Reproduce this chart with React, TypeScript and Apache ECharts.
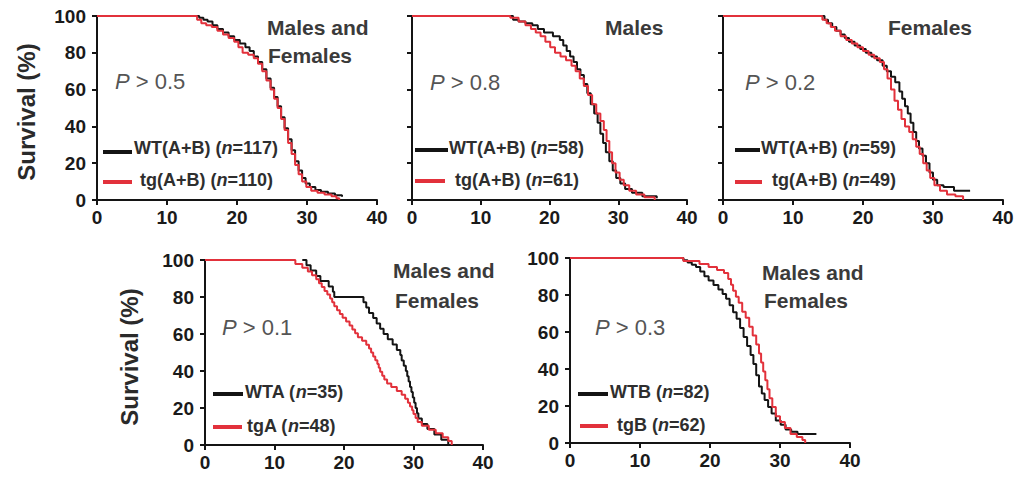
import React, { useEffect, useRef } from 'react';
import * as echarts from 'echarts';

// ---------- data ----------
const xTicks = [0, 10, 20, 30, 40];
const yTicks = [0, 20, 40, 60, 80, 100];
const panelTitles = [['Males and', 'Females'], ['Males'], ['Females'], ['Males and', 'Females'], ['Males and', 'Females']];
const pValues = ['0.5', '0.8', '0.2', '0.1', '0.3'];
const wtLabels = ['WT(A+B)', 'WT(A+B)', 'WT(A+B)', 'WTA', 'WTB'];
const tgLabels = ['tg(A+B)', 'tg(A+B)', 'tg(A+B)', 'tgA', 'tgB'];
const wtN = ['117', '58', '59', '35', '82'];
const tgN = ['110', '61', '49', '48', '62'];
const yAxisTitle = 'Survival (%)';

const wtAll = [[10.5, 100], [14.6, 99], [15.2, 98], [15.8, 97], [16.5, 95], [17.2, 93], [18, 91], [18.8, 89], [19.6, 87], [20.4, 85], [21.2, 83], [21.8, 81], [22.4, 78], [23, 75], [23.6, 71], [24.2, 66], [24.8, 61], [25.3, 56], [25.8, 51], [26.3, 45], [26.8, 39], [27.3, 33], [27.8, 27], [28.3, 21], [28.8, 16], [29.3, 12], [29.8, 9], [30.4, 7], [31.2, 5.5], [32, 4.5], [33, 3.5], [34, 2.6], [35, 1.7]];
const tgAll = [[0, 100], [14.3, 98], [14.9, 96], [15.6, 95], [16.4, 94], [17.2, 92], [18, 90], [18.8, 88], [19.6, 86], [20.2, 83], [20.8, 80], [21.6, 79], [22.4, 77], [23, 74], [23.6, 70], [24.2, 65], [24.8, 60], [25.3, 55], [25.8, 50], [26.3, 44], [26.8, 38], [27.3, 31], [27.8, 25], [28.3, 19], [28.8, 14], [29.3, 10], [29.9, 7], [30.6, 5], [31.5, 4], [32.5, 3], [33.5, 2], [34.2, 1], [34.6, 0]];

const wtMales = [[10.5, 100], [14.7, 98], [15.5, 97], [16.5, 96], [17.5, 95], [18.3, 93], [19.2, 91], [20.5, 89], [21.5, 87], [22, 84], [22.5, 81], [23, 78], [23.5, 75], [24, 71], [24.5, 68], [25, 63], [25.5, 58], [26, 52], [26.5, 47], [27, 42], [27.4, 36], [27.8, 31], [28.2, 26], [28.7, 21], [29.2, 16], [29.7, 12], [30.3, 9], [31, 6], [32, 4], [33.5, 2], [35.6, 1]];
const tgMales = [[0, 100], [14.3, 99], [15.5, 97], [16.5, 95], [17.3, 93], [18, 91], [18.7, 89], [19.4, 86], [20.1, 83], [20.8, 80], [21.6, 78], [22.4, 76], [23.2, 73], [23.8, 70], [24.4, 66], [25, 62], [25.6, 57], [26.2, 52], [26.8, 47], [27.4, 43], [27.9, 38], [28.3, 32], [28.7, 26], [29.1, 20], [29.6, 15], [30.2, 11], [30.8, 8], [31.6, 5], [32.6, 3], [33.8, 1.5], [35.3, 0]];

const wtFemales = [[14, 100], [14.5, 98], [15, 96], [15.6, 94], [16.2, 92], [16.8, 90], [17.4, 88], [18, 86], [18.8, 84], [19.6, 82], [20.4, 80], [21.2, 78], [22, 76], [22.8, 73], [23.4, 70], [24, 67], [24.6, 64], [25.2, 59], [25.6, 55], [26, 51], [26.4, 47], [26.8, 42], [27.2, 37], [27.6, 32], [28, 28], [28.5, 24], [29, 20], [29.5, 15], [30, 11], [30.6, 8], [31.5, 7], [33, 5], [35.3, 5]];
const tgFemales = [[0, 100], [14.2, 98], [14.8, 96], [15.4, 94], [16, 92], [16.8, 89], [17.6, 87], [18.4, 85], [19.2, 83], [20, 81], [20.8, 79], [21.6, 77], [22.4, 75], [23, 71], [23.5, 66], [24, 60], [24.5, 54], [25, 49], [25.5, 44], [26, 40], [26.6, 37], [27.1, 33], [27.6, 29], [28.1, 25], [28.6, 20], [29.1, 16], [29.6, 12], [30.2, 8], [31, 5], [32, 3], [33.2, 2], [34.3, 0]];

const wtA = [[14, 100], [14.6, 97.1], [15.2, 94.3], [16, 91.4], [16.6, 88.6], [17.8, 85.7], [18.4, 82.9], [18.6, 80], [22.8, 77.1], [23.2, 74.3], [23.6, 71.4], [24.2, 68.6], [24.7, 65.7], [25.2, 62.9], [25.7, 60], [26.3, 57.1], [27, 54.3], [27.6, 51.4], [28.1, 48.6], [28.3, 45.7], [28.6, 42.9], [28.9, 40], [29.1, 37.1], [29.3, 34.3], [29.5, 31.4], [29.7, 28.6], [29.9, 25.7], [30.1, 22.9], [30.3, 20], [30.5, 17.1], [30.7, 14.3], [31.2, 11.4], [32, 8.6], [33, 5.7], [34, 2.9], [35, 0]];
const tgA = [[0, 100], [13, 97.9], [14, 95.8], [14.8, 93.8], [15.4, 91.7], [16, 89.6], [16.4, 87.5], [16.8, 85.4], [17.2, 83.3], [17.6, 81.3], [18, 79.2], [18.3, 77.1], [18.6, 75], [19, 72.9], [19.4, 70.8], [19.8, 68.8], [20.3, 66.7], [20.8, 64.6], [21.2, 62.5], [21.6, 60.4], [22, 58.3], [22.6, 56.3], [23.2, 54.2], [23.6, 52.1], [23.9, 50], [24.2, 47.9], [24.5, 45.8], [24.8, 43.8], [25, 41.7], [25.2, 39.6], [25.5, 37.5], [25.8, 35.4], [26.2, 33.3], [26.8, 31.3], [27.6, 29.2], [28.3, 27.1], [28.8, 25], [29.2, 22.9], [29.5, 20.8], [29.8, 18.8], [30, 16.7], [30.3, 14.6], [30.6, 12.5], [31.2, 10.4], [32.2, 8.3], [33.2, 6.3], [34.2, 4.2], [35, 2.1], [35.5, 0]];

const wtB = [[10.5, 100], [16.2, 98.8], [16.8, 97.6], [17.4, 96.3], [18, 95.1], [18.6, 92.7], [19.2, 90.2], [19.8, 87.8], [20.5, 85.4], [21.2, 83], [21.8, 80.5], [22.3, 78], [22.8, 74.4], [23.3, 70.7], [23.8, 67.1], [24.3, 62.2], [24.8, 57.3], [25.3, 52.4], [25.8, 47.6], [26.2, 42.7], [26.6, 36.6], [27, 30.5], [27.4, 26.8], [27.8, 23.2], [28.3, 19.5], [28.8, 15.9], [29.4, 12.2], [30.1, 9.8], [30.8, 7.3], [31.6, 6.1], [32.5, 4.9], [35.2, 4.9]];
const tgB = [[0, 100], [16.2, 98.4], [18.5, 96.8], [19.8, 95.2], [21, 93.5], [22, 91.9], [22.6, 88.7], [23, 85.5], [23.3, 82.3], [23.7, 79], [24.1, 75.8], [24.6, 71], [25.1, 67.7], [25.6, 62.9], [26.1, 58.1], [26.6, 53.2], [27, 48.4], [27.3, 43.5], [27.6, 38.7], [27.9, 33.9], [28.2, 29], [28.5, 24.2], [28.9, 19.4], [29.4, 14.5], [30, 11.3], [30.7, 8.1], [31.5, 4.8], [32.4, 3.2], [33.2, 1.6], [33.6, 0]];

const wtSeries = [wtAll, wtMales, wtFemales, wtA, wtB];
const tgSeries = [tgAll, tgMales, tgFemales, tgA, tgB];

// ---------- layout / style ----------
const FONT = '"Liberation Sans", Arial, Helvetica, sans-serif';
const BLACK = '#141414';
const RED = '#e2313b';
const TXT = '#2e2e2e';

const grids = [
  { left: 97, top: 16, width: 280, height: 184 },
  { left: 412, top: 16, width: 275, height: 184 },
  { left: 723, top: 16, width: 280, height: 184 },
  { left: 205, top: 260, width: 278, height: 185 },
  { left: 570, top: 258, width: 280, height: 185 },
];
const showYLabels = [true, false, false, true, true];
const titlePos = [
  [[267, 27], [268, 55]],
  [[605, 27]],
  [[888, 27]],
  [[393, 270], [395, 300]],
  [[762, 272], [764, 300]],
];
const pPos = [[115, 81], [430, 82], [745, 82], [222, 327], [595, 327]];
const legPos = [
  { l1: [103, 132, 152], t1: [134, 148], l2: [103, 132, 182], t2: [140, 180] },
  { l1: [415, 448, 150], t1: [449, 148], l2: [415, 445, 181], t2: [455, 180] },
  { l1: [735, 760, 150], t1: [761, 148], l2: [735, 762, 182], t2: [772, 180] },
  { l1: [213, 243, 394], t1: [245, 392], l2: [213, 242, 427], t2: [247, 426] },
  { l1: [578, 608, 394], t1: [610, 392], l2: [580, 608, 426], t2: [617, 425] },
];
const yTitlePos = [[26, 112], [129, 357]];

function buildOption() {
  const grid: any[] = [];
  const xAxis: any[] = [];
  const yAxis: any[] = [];
  const series: any[] = [];
  const graphic: any[] = [];
  const axisLine = { show: true, lineStyle: { color: BLACK, width: 2 } };
  const axisTick = { show: true, length: 5, lineStyle: { color: BLACK, width: 2 } };

  grids.forEach((g, i) => {
    grid.push({ ...g, containLabel: false });
    xAxis.push({
      type: 'value', gridIndex: i, min: xTicks[0], max: xTicks[xTicks.length - 1], interval: 10,
      axisLine: { ...axisLine, onZero: false }, axisTick, splitLine: { show: false },
      axisLabel: { show: true, margin: 8, fontSize: 19, fontWeight: 'bold', color: '#1a1a1a', fontFamily: FONT },
    });
    yAxis.push({
      type: 'value', gridIndex: i, min: yTicks[0], max: yTicks[yTicks.length - 1], interval: 20,
      axisLine: { ...axisLine, onZero: false }, axisTick, splitLine: { show: false },
      axisLabel: { show: showYLabels[i], margin: 11, fontSize: 19, fontWeight: 'bold', color: '#1a1a1a', fontFamily: FONT },
    });
    series.push({
      type: 'line', xAxisIndex: i, yAxisIndex: i, step: 'end', symbol: 'none', z: 2,
      data: wtSeries[i], lineStyle: { color: BLACK, width: 2 }, silent: true,
    });
    series.push({
      type: 'line', xAxisIndex: i, yAxisIndex: i, step: 'end', symbol: 'none', z: 3,
      data: tgSeries[i], lineStyle: { color: RED, width: 2 }, silent: true,
    });

    panelTitles[i].forEach((t, k) => {
      graphic.push({
        type: 'text', x: titlePos[i][k][0], y: titlePos[i][k][1],
        style: { text: t, fill: '#3a3a3a', font: `bold 21px ${FONT}`, align: 'left', verticalAlign: 'middle' },
      });
    });
    graphic.push({
      type: 'text', x: pPos[i][0], y: pPos[i][1],
      style: {
        text: `{i|P}{r| > ${pValues[i]}}`, align: 'left', verticalAlign: 'middle',
        rich: {
          i: { fontStyle: 'italic', fontSize: 22, fontFamily: FONT, fill: '#555' },
          r: { fontSize: 22, fontFamily: FONT, fill: '#555' },
        },
      },
    });
    const lp = legPos[i];
    graphic.push({ type: 'line', shape: { x1: lp.l1[0], y1: lp.l1[2], x2: lp.l1[1], y2: lp.l1[2] }, style: { stroke: BLACK, lineWidth: 4 } });
    graphic.push({ type: 'line', shape: { x1: lp.l2[0], y1: lp.l2[2], x2: lp.l2[1], y2: lp.l2[2] }, style: { stroke: RED, lineWidth: 4 } });
    const rich = {
      b: { fontWeight: 'bold', fontSize: 18, fontFamily: FONT, fill: TXT },
      i: { fontWeight: 'bold', fontStyle: 'italic', fontSize: 18, fontFamily: FONT, fill: TXT },
    };
    graphic.push({
      type: 'text', x: lp.t1[0], y: lp.t1[1],
      style: { text: `{b|${wtLabels[i]} (}{i|n}{b|=${wtN[i]})}`, align: 'left', verticalAlign: 'middle', rich },
    });
    graphic.push({
      type: 'text', x: lp.t2[0], y: lp.t2[1],
      style: { text: `{b|${tgLabels[i]} (}{i|n}{b|=${tgN[i]})}`, align: 'left', verticalAlign: 'middle', rich },
    });
  });

  yTitlePos.forEach((p) => {
    graphic.push({
      type: 'text', x: p[0], y: p[1], rotation: Math.PI / 2,
      style: { text: yAxisTitle, fill: '#2a2a2a', font: `bold 24px ${FONT}`, align: 'center', verticalAlign: 'middle' },
    });
  });

  return {
    animation: false,
    backgroundColor: '#ffffff',
    grid, xAxis, yAxis, series, graphic,
  };
}

export default function App() {
  const ref = useRef<HTMLDivElement>(null);
  useEffect(() => {
    if (!ref.current) return;
    const chart = echarts.init(ref.current, undefined, { renderer: 'svg' });
    chart.setOption(buildOption() as any);
    return () => chart.dispose();
  }, []);
  return <div ref={ref} style={{ position: 'absolute', left: 0, top: 0, width: 1025, height: 479 }} />;
}
